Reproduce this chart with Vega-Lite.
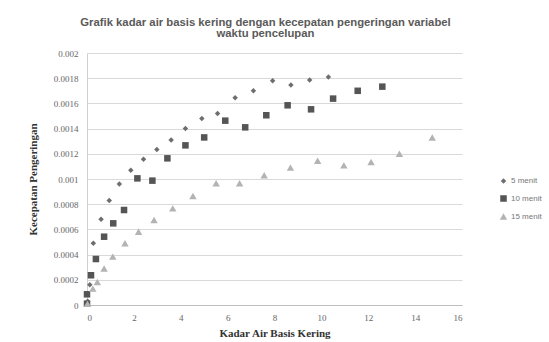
{
  "$schema": "https://vega.github.io/schema/vega-lite/v6.json",
  "width": 375,
  "height": 252,
  "autosize": {"type": "none"},
  "padding": {"left": 87, "top": 53, "right": 87, "bottom": 37},
  "background": "white",
  "title": {
    "text": ["Grafik kadar air basis kering dengan kecepatan pengeringan variabel", "waktu pencelupan"],
    "font": "Liberation Sans",
    "fontSize": 11.3,
    "fontWeight": "bold",
    "color": "#5a5a5a",
    "anchor": "middle",
    "dx": -9,
    "offset": 10,
    "lineHeight": 11
  },
  "data": {
    "values": [
      {"series": "5 menit", "x": 0.03, "y": 0.00003},
      {"series": "5 menit", "x": 0.12, "y": 0.00016},
      {"series": "5 menit", "x": 0.27, "y": 0.00049},
      {"series": "5 menit", "x": 0.6, "y": 0.00068},
      {"series": "5 menit", "x": 0.95, "y": 0.00083},
      {"series": "5 menit", "x": 1.38, "y": 0.00096},
      {"series": "5 menit", "x": 1.87, "y": 0.00107},
      {"series": "5 menit", "x": 2.41, "y": 0.001156},
      {"series": "5 menit", "x": 2.98, "y": 0.001235},
      {"series": "5 menit", "x": 3.59, "y": 0.00131},
      {"series": "5 menit", "x": 4.2, "y": 0.0014},
      {"series": "5 menit", "x": 4.9, "y": 0.00148},
      {"series": "5 menit", "x": 5.57, "y": 0.00152},
      {"series": "5 menit", "x": 6.32, "y": 0.001645},
      {"series": "5 menit", "x": 7.1, "y": 0.0017},
      {"series": "5 menit", "x": 7.92, "y": 0.00178},
      {"series": "5 menit", "x": 8.7, "y": 0.001746},
      {"series": "5 menit", "x": 9.5, "y": 0.001786},
      {"series": "5 menit", "x": 10.3, "y": 0.00181},
      {"series": "10 menit", "x": 0.0, "y": 0.00001},
      {"series": "10 menit", "x": 0.0, "y": 0.000085},
      {"series": "10 menit", "x": 0.17, "y": 0.000236},
      {"series": "10 menit", "x": 0.38, "y": 0.000365},
      {"series": "10 menit", "x": 0.73, "y": 0.000542},
      {"series": "10 menit", "x": 1.12, "y": 0.000648},
      {"series": "10 menit", "x": 1.58, "y": 0.000754},
      {"series": "10 menit", "x": 2.15, "y": 0.001005},
      {"series": "10 menit", "x": 2.79, "y": 0.000987},
      {"series": "10 menit", "x": 3.43, "y": 0.001164},
      {"series": "10 menit", "x": 4.2, "y": 0.001267},
      {"series": "10 menit", "x": 5.0, "y": 0.00133},
      {"series": "10 menit", "x": 5.9, "y": 0.001463},
      {"series": "10 menit", "x": 6.75, "y": 0.00141},
      {"series": "10 menit", "x": 7.65, "y": 0.001506},
      {"series": "10 menit", "x": 8.56, "y": 0.001585},
      {"series": "10 menit", "x": 9.56, "y": 0.001553},
      {"series": "10 menit", "x": 10.5, "y": 0.001638},
      {"series": "10 menit", "x": 11.55, "y": 0.0017},
      {"series": "10 menit", "x": 12.6, "y": 0.001733},
      {"series": "15 menit", "x": 0.02, "y": 0.00001},
      {"series": "15 menit", "x": 0.25, "y": 0.00013},
      {"series": "15 menit", "x": 0.44, "y": 0.000183},
      {"series": "15 menit", "x": 0.73, "y": 0.00029},
      {"series": "15 menit", "x": 1.1, "y": 0.000384},
      {"series": "15 menit", "x": 1.62, "y": 0.00049},
      {"series": "15 menit", "x": 2.2, "y": 0.000582},
      {"series": "15 menit", "x": 2.86, "y": 0.000675},
      {"series": "15 menit", "x": 3.66, "y": 0.000767},
      {"series": "15 menit", "x": 4.52, "y": 0.000865},
      {"series": "15 menit", "x": 5.51, "y": 0.000966},
      {"series": "15 menit", "x": 6.51, "y": 0.000966},
      {"series": "15 menit", "x": 7.56, "y": 0.00103},
      {"series": "15 menit", "x": 8.68, "y": 0.00109},
      {"series": "15 menit", "x": 9.84, "y": 0.001145},
      {"series": "15 menit", "x": 10.96, "y": 0.001108},
      {"series": "15 menit", "x": 12.12, "y": 0.001135},
      {"series": "15 menit", "x": 13.33, "y": 0.0012},
      {"series": "15 menit", "x": 14.73, "y": 0.00133}
    ]
  },
  "mark": {"type": "point", "filled": true, "opacity": 1},
  "encoding": {
    "x": {
      "field": "x",
      "type": "quantitative",
      "scale": {"domain": [0, 16], "nice": false, "zero": false},
      "axis": {
        "title": "Kadar Air Basis Kering",
        "values": [0, 2, 4, 6, 8, 10, 12, 14, 16],
        "grid": false,
        "ticks": false,
        "domainColor": "#bfbfbf",
        "labelFont": "Liberation Serif",
        "labelFontSize": 9,
        "labelColor": "#666666",
        "labelPadding": 8,
        "titleFont": "Liberation Serif",
        "titleFontSize": 11,
        "titleFontWeight": "bold",
        "titleColor": "#333333",
        "titlePadding": 5
      }
    },
    "y": {
      "field": "y",
      "type": "quantitative",
      "scale": {"domain": [0, 0.002], "nice": false},
      "axis": {
        "title": "Kecepatan Pengeringan",
        "values": [0, 0.0002, 0.0004, 0.0006, 0.0008, 0.001, 0.0012, 0.0014, 0.0016, 0.0018, 0.002],
        "labelExpr": "datum.value == 0 ? '0' : format(datum.value, '.4~f')",
        "grid": true,
        "gridColor": "#d9d9d9",
        "ticks": false,
        "domainColor": "#d0d0d0",
        "labelFont": "Liberation Serif",
        "labelFontSize": 9,
        "labelColor": "#666666",
        "labelPadding": 9,
        "titleFont": "Liberation Serif",
        "titleFontSize": 11,
        "titleFontWeight": "bold",
        "titleColor": "#333333",
        "titlePadding": 15
      }
    },
    "color": {
      "field": "series",
      "type": "nominal",
      "scale": {"domain": ["5 menit", "10 menit", "15 menit"], "range": ["#6e6e6e", "#555555", "#b3b3b3"]},
      "legend": {
        "title": null,
        "orient": "none",
        "legendX": 412,
        "legendY": 124,
        "labelFont": "Liberation Sans",
        "labelFontSize": 8,
        "labelColor": "#777777",
        "rowPadding": 9,
        "symbolSize": 28,
        "labelOffset": 3
      }
    },
    "shape": {
      "field": "series",
      "type": "nominal",
      "scale": {"domain": ["5 menit", "10 menit", "15 menit"], "range": ["diamond", "square", "triangle-up"]}
    },
    "size": {
      "field": "series",
      "type": "nominal",
      "scale": {"domain": ["5 menit", "10 menit", "15 menit"], "range": [30, 55, 35]},
      "legend": null
    }
  },
  "config": {"view": {"stroke": null}}
}
